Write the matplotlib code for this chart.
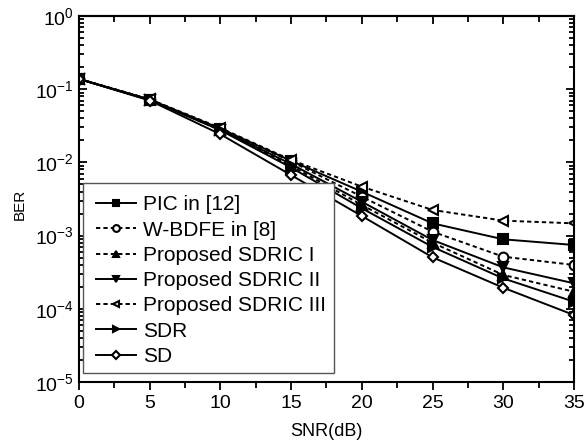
import matplotlib
matplotlib.use('Agg')
import matplotlib.pyplot as plt
from matplotlib.patches import Rectangle
from matplotlib.ticker import LogLocator, MultipleLocator, NullFormatter

plt.rcParams['font.family'] = ['Liberation Sans', 'DejaVu Sans']
plt.rcParams['mathtext.fontset'] = 'custom'
plt.rcParams['mathtext.rm'] = 'Liberation Sans'

snr = [0, 5, 10, 15, 20, 25, 30, 35]

ber_pic = [0.138, 0.072, 0.0290, 0.0105, 0.00398, 0.00147, 0.00089, 0.000744]
ber_wbdfe = [0.138, 0.072, 0.0288, 0.0103, 0.00340, 0.00113, 0.000515, 0.000397]
ber_sdric1 = [0.138, 0.072, 0.0278, 0.0090, 0.00262, 0.00080, 0.000290, 0.000171]
ber_sdric2 = [0.138, 0.072, 0.0280, 0.0095, 0.00290, 0.00087, 0.000368, 0.000223]
ber_sdric3 = [0.138, 0.073, 0.0295, 0.0108, 0.00466, 0.00224, 0.00160, 0.00147]
ber_sdr = [0.138, 0.071, 0.0275, 0.0085, 0.00236, 0.00070, 0.000260, 0.000125]
ber_sd = [0.138, 0.070, 0.0242, 0.0067, 0.00185, 0.000505, 0.000194, 0.0000822]

labels = ['PIC in [12]', 'W-BDFE in [8]', 'Proposed SDRIC I', 'Proposed SDRIC II',
          'Proposed SDRIC III', 'SDR', 'SD']

dash = (0, (2.2, 1.6))
styles = [
    (ber_pic, '-', 's', 'black'),
    (ber_wbdfe, dash, 'o', 'white'),
    (ber_sdric1, dash, '^', 'black'),
    (ber_sdric2, '-', 'v', 'black'),
    (ber_sdric3, dash, '<', 'white'),
    (ber_sdr, '-', '>', 'black'),
    (ber_sd, '-', 'D', 'white'),
]

fig = plt.figure(figsize=(5.86, 4.43), dpi=100)
ax = fig.add_axes([0.1348, 0.1377, 0.8447, 0.8262])

for (vals, ls, mk, fc), lab in zip(styles, labels):
    ms = 5.5 if mk == 'D' else 7
    ax.plot(snr, vals, linestyle=ls, marker=mk, color='black', markerfacecolor=fc,
            markeredgecolor='black', markeredgewidth=1.5, markersize=ms, linewidth=1.4,
            label=lab)

ax.set_yscale('log')
ax.set_xlim(0, 35)
ax.set_ylim(1e-5, 1)
ax.xaxis.set_major_locator(MultipleLocator(5))
ax.xaxis.set_minor_locator(MultipleLocator(2.5))
ax.yaxis.set_major_locator(LogLocator(base=10, numticks=10))
ax.yaxis.set_minor_locator(LogLocator(base=10, subs=range(2, 10), numticks=10))
ax.yaxis.set_minor_formatter(NullFormatter())

for s in ax.spines.values():
    s.set_linewidth(1.5)

ax.tick_params(axis='x', which='both', direction='out', top=False, labelsize=14, width=1.3)
ax.tick_params(axis='x', which='major', length=6)
ax.tick_params(axis='x', which='minor', length=4)
ax.tick_params(axis='y', which='both', direction='in', right=True, labelsize=14, width=1.3)
ax.tick_params(axis='y', which='major', length=6)
ax.tick_params(axis='y', which='minor', length=3.5)

top = ax.secondary_xaxis('top')
top.xaxis.set_major_locator(MultipleLocator(5))
top.xaxis.set_minor_locator(MultipleLocator(2.5))
top.tick_params(which='both', direction='in', labeltop=False, width=1.3)
top.tick_params(which='major', length=6)
top.tick_params(which='minor', length=4)
top.spines['top'].set_linewidth(1.5)

ax.set_xlabel('SNR(dB)', fontsize=13)
ax.xaxis.set_label_coords(0.5, -0.112)
ax.set_ylabel('BER', fontsize=11)
ax.yaxis.set_label_coords(-0.105, 0.484)

# legend frame drawn separately (Origin style: more room at the top)
ax.add_patch(Rectangle((0.008, 0.025), 0.507, 0.519, transform=ax.transAxes,
                       facecolor='white', edgecolor='#555555', linewidth=1.0, zorder=4))
leg = ax.legend(loc='upper left', bbox_to_anchor=(0.034, 0.51), fontsize=15,
                frameon=False, handlelength=1.95, handletextpad=0.3,
                labelspacing=0.3, borderpad=0, markerscale=0.7, borderaxespad=0)
leg.set_zorder(5)

fig.savefig('out.png', dpi=100)
